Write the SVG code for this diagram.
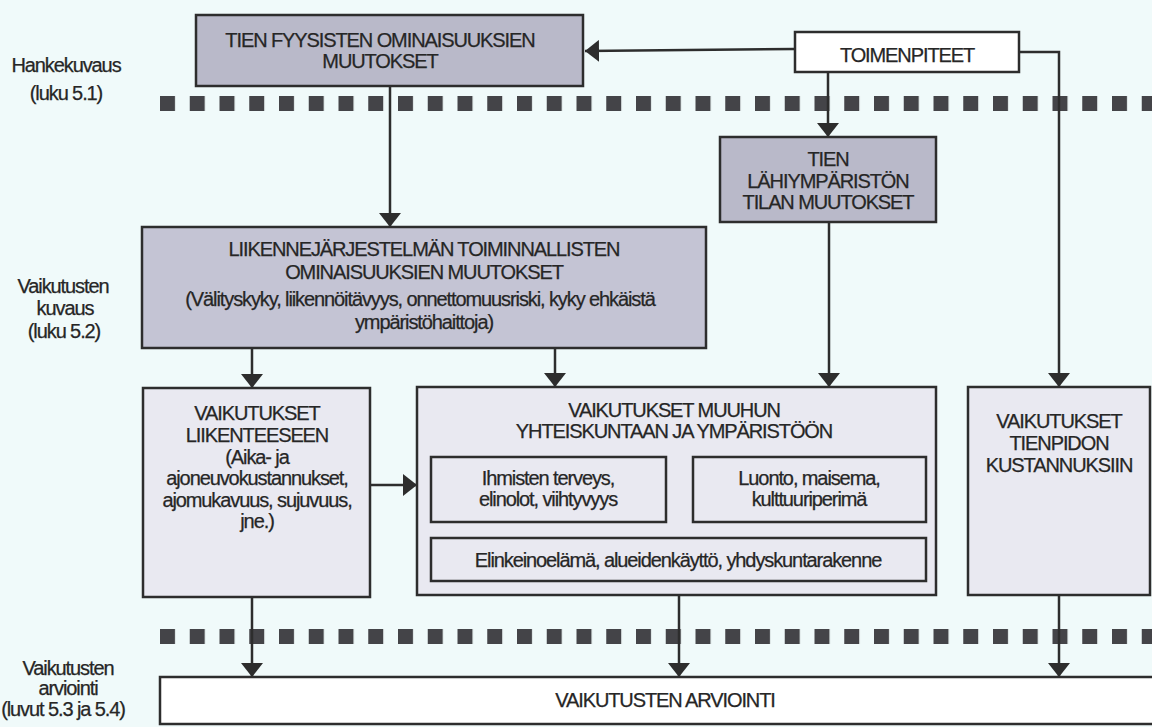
<svg xmlns="http://www.w3.org/2000/svg" width="1152" height="727" viewBox="0 0 1152 727">
<style>
  text { font-family: "Liberation Sans", Arial, sans-serif; font-size: 20px; letter-spacing: -1.1px; fill: #262626; stroke: #262626; stroke-width: 0.25; text-anchor: middle; }
  .box { stroke: #2d2d2d; stroke-width: 2.5; }
  .dark { fill: #b9b9c9; }
  .mid { fill: #c4c4d4; }
  .light { fill: #e9e9f1; }
  .white { fill: #ffffff; }
  .conn { fill: none; stroke: #2d2d2d; stroke-width: 2.5; }
  .arr { marker-end: url(#ah); }
  .sq { fill: #444448; }
</style>
<defs>
  <marker id="ah" viewBox="0 0 14 22" refX="14" refY="11" markerWidth="14" markerHeight="22" markerUnits="userSpaceOnUse" orient="auto">
    <path d="M0,0 L14,11 L0,22 z" fill="#2d2d2d"/>
  </marker>
  <pattern id="dots" x="160" y="0" width="29.75" height="727" patternUnits="userSpaceOnUse">
    <rect x="0" y="0" width="15" height="727" class="sq"/>
  </pattern>
</defs>
<rect x="0" y="0" width="1152" height="727" fill="#f0fafa"/>

<g id="labels">
  <text x="66" y="72">Hankekuvaus</text>
  <text x="66" y="100">(luku 5.1)</text>
  <text x="63" y="293">Vaikutusten</text>
  <text x="65" y="315">kuvaus</text>
  <text x="64" y="338">(luku 5.2)</text>
  <text x="68" y="675">Vaikutusten</text>
  <text x="68" y="695">arviointi</text>
  <text x="63" y="716">(luvut 5.3 ja 5.4)</text>
</g>

<g id="separators">
  <rect x="160" y="96" width="992" height="15" fill="url(#dots)"/>
  <rect x="160" y="629" width="992" height="15" fill="url(#dots)"/>
</g>

<g id="connectors">
  <path class="conn arr" d="M795,49 L585,51"/>
  <path class="conn arr" d="M828,72 L828,137"/>
  <path class="conn arr" d="M1019,52 L1059,52 L1059,387"/>
  <path class="conn arr" d="M390,86 L390,227"/>
  <path class="conn arr" d="M252,348 L252,388"/>
  <path class="conn arr" d="M555,348 L555,387"/>
  <path class="conn arr" d="M829,222 L829,387"/>
  <path class="conn arr" d="M370,485 L417,485"/>
  <path class="conn arr" d="M252,597 L252,677"/>
  <path class="conn arr" d="M679,595 L679,677"/>
  <path class="conn arr" d="M1059,595 L1059,677"/>
</g>

<g id="node-tien-fyysisten">
  <rect x="196" y="15" width="387" height="71" class="box dark"/>
  <text x="380" y="47">TIEN FYYSISTEN OMINAISUUKSIEN</text>
  <text x="380" y="68">MUUTOKSET</text>
</g>

<g id="node-toimenpiteet">
  <rect x="795" y="32" width="224" height="40" class="box white"/>
  <text x="907" y="62">TOIMENPITEET</text>
</g>

<g id="node-tien-lahiymparisto">
  <rect x="720" y="137" width="216" height="85" class="box dark"/>
  <text x="828" y="166">TIEN</text>
  <text x="828" y="188">LÄHIYMPÄRISTÖN</text>
  <text x="828" y="209">TILAN MUUTOKSET</text>
</g>

<g id="node-liikennejarjestelma">
  <rect x="142" y="227" width="564" height="121" class="box mid"/>
  <text x="424" y="256">LIIKENNEJÄRJESTELMÄN TOIMINNALLISTEN</text>
  <text x="424" y="279">OMINAISUUKSIEN MUUTOKSET</text>
  <text x="420" y="306">(Välityskyky, liikennöitävyys, onnettomuusriski, kyky ehkäistä</text>
  <text x="424" y="329">ympäristöhaittoja)</text>
</g>

<g id="node-vaikutukset-liikenteeseen">
  <rect x="143" y="388" width="227" height="209" class="box light"/>
  <text x="257" y="420">VAIKUTUKSET</text>
  <text x="257" y="442">LIIKENTEESEEN</text>
  <text x="257" y="464">(Aika- ja</text>
  <text x="257" y="485">ajoneuvokustannukset,</text>
  <text x="257" y="507">ajomukavuus, sujuvuus,</text>
  <text x="257" y="528">jne.)</text>
</g>

<g id="node-vaikutukset-muuhun">
  <rect x="417" y="387" width="519" height="208" class="box light"/>
  <text x="674" y="417">VAIKUTUKSET MUUHUN</text>
  <text x="674" y="438">YHTEISKUNTAAN JA YMPÄRISTÖÖN</text>
  <g id="node-ihmisten">
    <rect x="431" y="457" width="235" height="65" class="box light"/>
    <text x="548" y="485">Ihmisten terveys,</text>
    <text x="548" y="506">elinolot, viihtyvyys</text>
  </g>
  <g id="node-luonto">
    <rect x="693" y="457" width="233" height="65" class="box light"/>
    <text x="809" y="485">Luonto, maisema,</text>
    <text x="809" y="506">kulttuuriperimä</text>
  </g>
  <g id="node-elinkeino">
    <rect x="431" y="538" width="495" height="43" class="box light"/>
    <text x="678" y="567">Elinkeinoelämä, alueidenkäyttö, yhdyskuntarakenne</text>
  </g>
</g>

<g id="node-tienpidon">
  <rect x="968" y="387" width="182" height="208" class="box light"/>
  <text x="1059" y="428">VAIKUTUKSET</text>
  <text x="1059" y="450">TIENPIDON</text>
  <text x="1059" y="472">KUSTANNUKSIIN</text>
</g>

<g id="node-arviointi">
  <rect x="160" y="677" width="995" height="47" class="box white"/>
  <text x="665" y="707">VAIKUTUSTEN ARVIOINTI</text>
</g>
</svg>
